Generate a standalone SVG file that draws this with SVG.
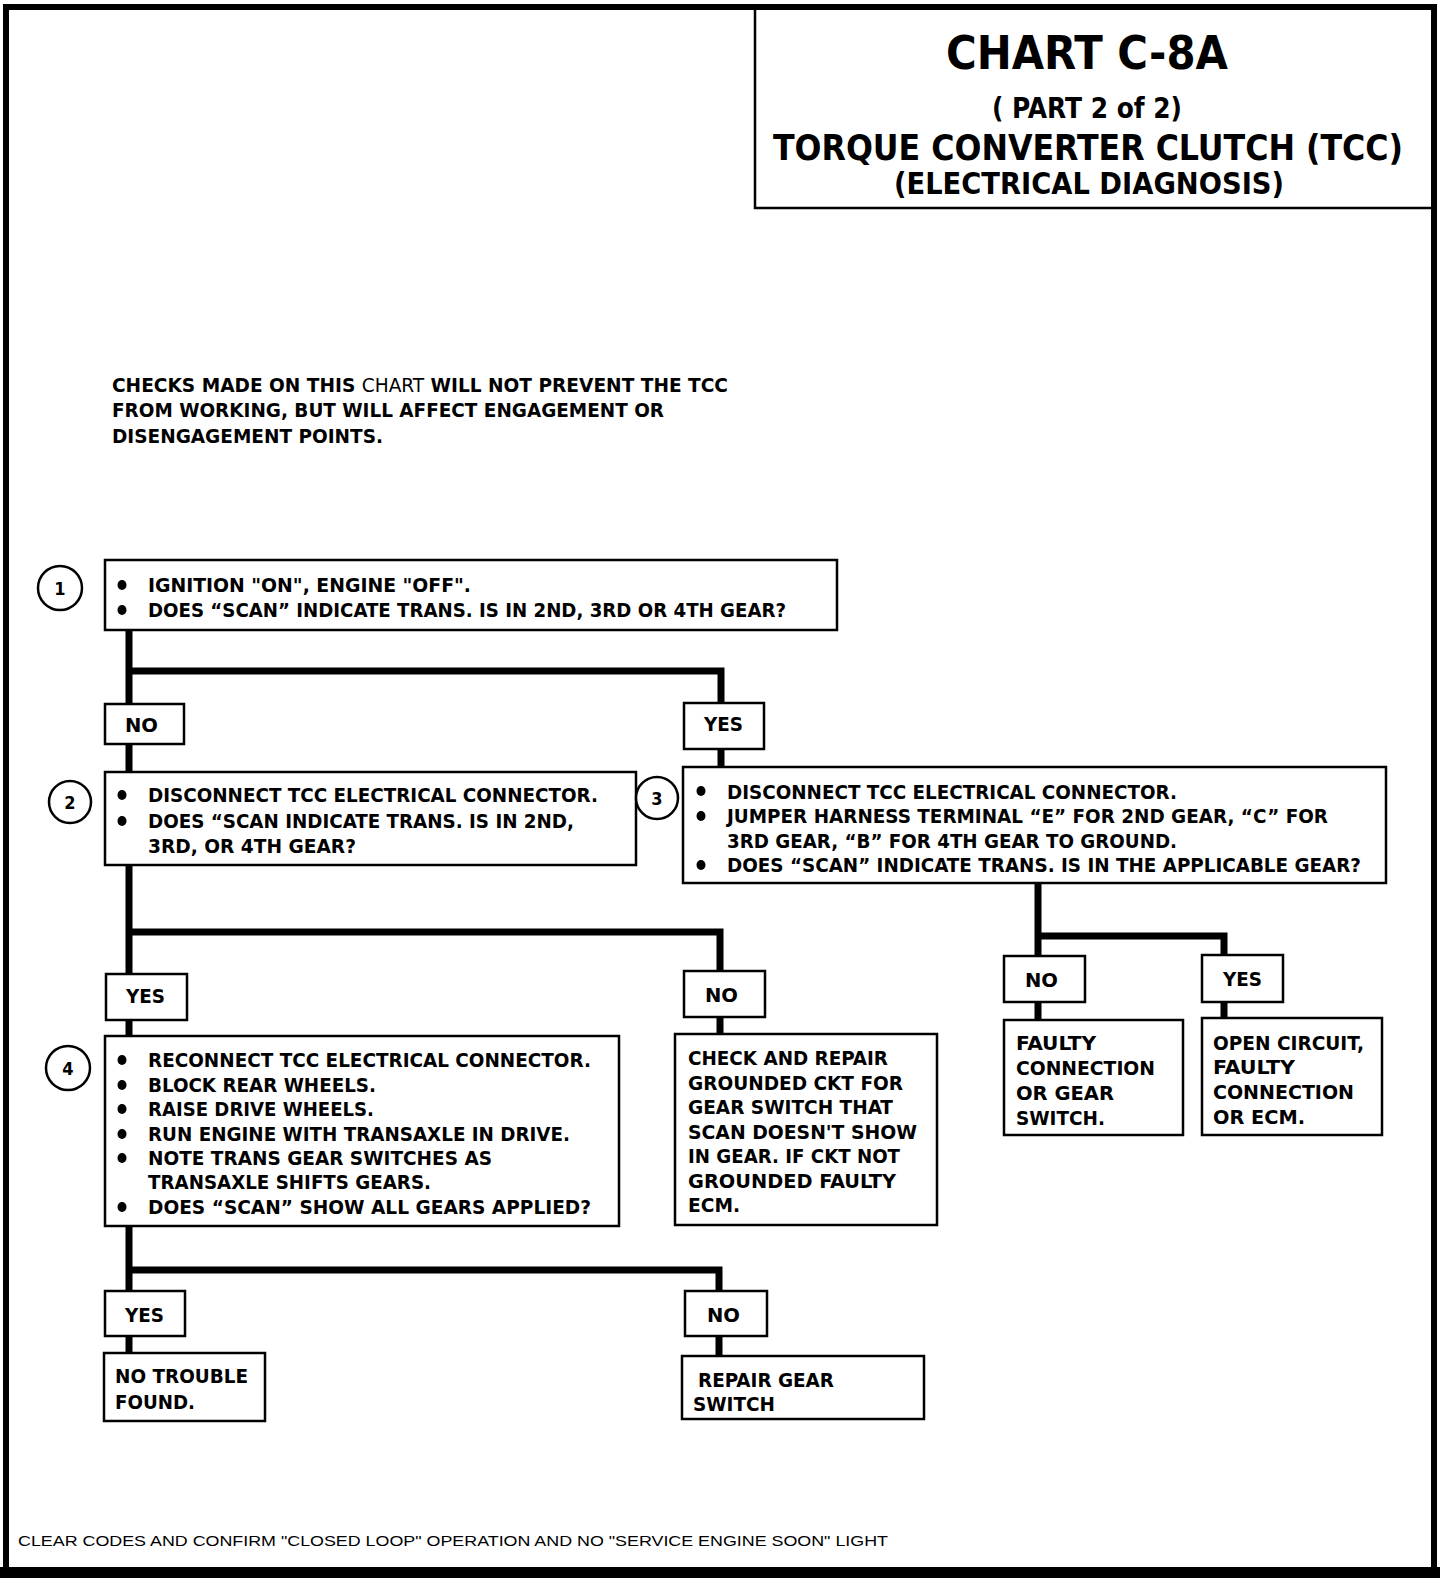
<svg xmlns="http://www.w3.org/2000/svg" width="1456" height="1578" viewBox="0 0 1456 1578">
<style>
.bx{fill:#fff;stroke:#000;stroke-width:2.5}
.t{font-family:"DejaVu Sans Condensed","DejaVu Sans",sans-serif;font-weight:bold;font-size:20px;fill:#000}
.ti{font-family:"DejaVu Sans Condensed","DejaVu Sans",sans-serif;font-weight:bold;fill:#000;text-anchor:middle}
.n{font-family:"DejaVu Sans Condensed","DejaVu Sans",sans-serif;font-weight:bold;font-size:18px;fill:#000;text-anchor:middle}
.ci{fill:#fff;stroke:#000;stroke-width:2.5}
.c{fill:none;stroke:#000;stroke-width:7;stroke-linejoin:miter}
.b{fill:#000}
.ft{font-family:"Liberation Sans",Arial,sans-serif;font-size:15px;fill:#000}
</style>
<rect x="0" y="0" width="1456" height="1578" fill="#fff"/>
<g id="border">
<path d="M6 1578 V7 H1434 V1578" fill="none" stroke="#000" stroke-width="6"/>
<rect x="0" y="1567" width="1440" height="11" fill="#000"/>
</g>
<g id="title">
<path d="M755 8 V208 H1434" fill="none" stroke="#000" stroke-width="2.5"/>
<text class="ti" x="1087" y="69" font-size="46" textLength="282" lengthAdjust="spacingAndGlyphs">CHART C-8A</text>
<text class="ti" x="1087" y="118" font-size="28" textLength="190" lengthAdjust="spacingAndGlyphs">( PART 2 of 2)</text>
<text class="ti" x="1088" y="160" font-size="36" textLength="630" lengthAdjust="spacingAndGlyphs">TORQUE CONVERTER CLUTCH (TCC)</text>
<text class="ti" x="1089" y="194" font-size="30" textLength="390" lengthAdjust="spacingAndGlyphs">(ELECTRICAL DIAGNOSIS)</text>
</g>
<g id="intro">
<text class="t" x="112" y="392" textLength="616" lengthAdjust="spacingAndGlyphs">CHECKS MADE ON THIS <tspan font-weight="normal">CHART</tspan>  WILL NOT PREVENT THE TCC</text>
<text class="t" x="112" y="417" textLength="552" lengthAdjust="spacingAndGlyphs">FROM WORKING, BUT WILL AFFECT ENGAGEMENT OR</text>
<text class="t" x="112" y="443" textLength="271" lengthAdjust="spacingAndGlyphs">DISENGAGEMENT POINTS.</text>
</g>
<g id="connectors">
<path class="c" d="M129 630 V704 M129 671 H721 V703"/>
<path class="c" d="M129 744 V772 M721 749 V767"/>
<path class="c" d="M129 865 V974 M129 932 H720 V971"/>
<path class="c" d="M129 1020 V1036 M720 1017 V1034"/>
<path class="c" d="M1038 883 V956 M1038 936 H1224 V955"/>
<path class="c" d="M1038 1002 V1020 M1224 1002 V1018"/>
<path class="c" d="M129 1226 V1291 M129 1270 H719 V1291"/>
<path class="c" d="M129 1336 V1353 M719 1336 V1356"/>
</g>
<g id="step1">
<circle class="ci" cx="60" cy="588" r="22"/>
<text class="n" x="60" y="595">1</text>
<rect class="bx" x="105" y="560" width="732" height="70"/>
<ellipse class="b" cx="122" cy="585" rx="4.5" ry="5"/>
<ellipse class="b" cx="122" cy="610" rx="4.5" ry="5"/>
<text class="t" x="148" y="592" textLength="323" lengthAdjust="spacingAndGlyphs">IGNITION "ON", ENGINE "OFF".</text>
<text class="t" x="148" y="617" textLength="638" lengthAdjust="spacingAndGlyphs">DOES “SCAN” INDICATE TRANS. IS IN 2ND, 3RD OR 4TH GEAR?</text>
</g>
<g id="no1">
<rect class="bx" x="105" y="704" width="79" height="40"/>
<text class="t" x="125" y="732" textLength="33" lengthAdjust="spacingAndGlyphs">NO</text>
</g>
<g id="yes1">
<rect class="bx" x="684" y="703" width="80" height="46"/>
<text class="t" x="704" y="731" textLength="39" lengthAdjust="spacingAndGlyphs">YES</text>
</g>
<g id="step2">
<circle class="ci" cx="70" cy="802" r="21"/>
<text class="n" x="70" y="809">2</text>
<rect class="bx" x="105" y="772" width="531" height="93"/>
<ellipse class="b" cx="122" cy="795" rx="4.5" ry="5"/>
<ellipse class="b" cx="122" cy="821" rx="4.5" ry="5"/>
<text class="t" x="148" y="802" textLength="450" lengthAdjust="spacingAndGlyphs">DISCONNECT TCC ELECTRICAL CONNECTOR.</text>
<text class="t" x="148" y="828" textLength="426" lengthAdjust="spacingAndGlyphs">DOES “SCAN INDICATE TRANS. IS IN 2ND,</text>
<text class="t" x="148" y="853" textLength="208" lengthAdjust="spacingAndGlyphs">3RD, OR  4TH GEAR?</text>
</g>
<g id="step3">
<circle class="ci" cx="657" cy="798" r="21"/>
<text class="n" x="657" y="805">3</text>
<rect class="bx" x="683" y="767" width="703" height="116"/>
<ellipse class="b" cx="701" cy="791" rx="4.5" ry="5"/>
<ellipse class="b" cx="701" cy="816" rx="4.5" ry="5"/>
<ellipse class="b" cx="701" cy="865" rx="4.5" ry="5"/>
<text class="t" x="727" y="799" textLength="450" lengthAdjust="spacingAndGlyphs">DISCONNECT TCC ELECTRICAL CONNECTOR.</text>
<text class="t" x="727" y="823" textLength="601" lengthAdjust="spacingAndGlyphs">JUMPER HARNESS TERMINAL “E” FOR 2ND GEAR, “C” FOR</text>
<text class="t" x="727" y="848" textLength="450" lengthAdjust="spacingAndGlyphs">3RD GEAR, “B” FOR 4TH GEAR TO GROUND.</text>
<text class="t" x="727" y="872" textLength="634" lengthAdjust="spacingAndGlyphs">DOES “SCAN” INDICATE TRANS. IS IN THE APPLICABLE GEAR?</text>
</g>
<g id="yes2">
<rect class="bx" x="106" y="974" width="81" height="46"/>
<text class="t" x="126" y="1003" textLength="39" lengthAdjust="spacingAndGlyphs">YES</text>
</g>
<g id="no2">
<rect class="bx" x="684" y="971" width="81" height="46"/>
<text class="t" x="705" y="1002" textLength="33" lengthAdjust="spacingAndGlyphs">NO</text>
</g>
<g id="no3">
<rect class="bx" x="1004" y="956" width="81" height="46"/>
<text class="t" x="1025" y="987" textLength="33" lengthAdjust="spacingAndGlyphs">NO</text>
</g>
<g id="yes3">
<rect class="bx" x="1202" y="955" width="81" height="47"/>
<text class="t" x="1223" y="986" textLength="39" lengthAdjust="spacingAndGlyphs">YES</text>
</g>
<g id="step4">
<circle class="ci" cx="68" cy="1068" r="22"/>
<text class="n" x="68" y="1075">4</text>
<rect class="bx" x="105" y="1036" width="514" height="190"/>
<ellipse class="b" cx="122" cy="1060" rx="4.5" ry="5"/>
<ellipse class="b" cx="122" cy="1085" rx="4.5" ry="5"/>
<ellipse class="b" cx="122" cy="1109" rx="4.5" ry="5"/>
<ellipse class="b" cx="122" cy="1134" rx="4.5" ry="5"/>
<ellipse class="b" cx="122" cy="1158" rx="4.5" ry="5"/>
<ellipse class="b" cx="122" cy="1207" rx="4.5" ry="5"/>
<text class="t" x="148" y="1067" textLength="443" lengthAdjust="spacingAndGlyphs">RECONNECT TCC ELECTRICAL CONNECTOR.</text>
<text class="t" x="148" y="1092" textLength="228" lengthAdjust="spacingAndGlyphs">BLOCK REAR WHEELS.</text>
<text class="t" x="148" y="1116" textLength="226" lengthAdjust="spacingAndGlyphs">RAISE DRIVE WHEELS.</text>
<text class="t" x="148" y="1141" textLength="422" lengthAdjust="spacingAndGlyphs">RUN ENGINE WITH TRANSAXLE IN DRIVE.</text>
<text class="t" x="148" y="1165" textLength="344" lengthAdjust="spacingAndGlyphs">NOTE TRANS GEAR SWITCHES AS</text>
<text class="t" x="148" y="1189" textLength="283" lengthAdjust="spacingAndGlyphs">TRANSAXLE SHIFTS GEARS.</text>
<text class="t" x="148" y="1214" textLength="443" lengthAdjust="spacingAndGlyphs">DOES “SCAN” SHOW ALL GEARS APPLIED?</text>
</g>
<g id="result-ground">
<rect class="bx" x="675" y="1034" width="262" height="191"/>
<text class="t" x="688" y="1065" textLength="200" lengthAdjust="spacingAndGlyphs">CHECK AND REPAIR</text>
<text class="t" x="688" y="1090" textLength="215" lengthAdjust="spacingAndGlyphs">GROUNDED CKT FOR</text>
<text class="t" x="688" y="1114" textLength="205" lengthAdjust="spacingAndGlyphs">GEAR SWITCH THAT</text>
<text class="t" x="688" y="1139" textLength="229" lengthAdjust="spacingAndGlyphs">SCAN DOESN'T SHOW</text>
<text class="t" x="688" y="1163" textLength="212" lengthAdjust="spacingAndGlyphs">IN GEAR.  IF CKT NOT</text>
<text class="t" x="688" y="1188" textLength="208" lengthAdjust="spacingAndGlyphs">GROUNDED FAULTY</text>
<text class="t" x="688" y="1212" textLength="52" lengthAdjust="spacingAndGlyphs">ECM.</text>
</g>
<g id="result-faulty">
<rect class="bx" x="1004" y="1020" width="179" height="115"/>
<text class="t" x="1016" y="1050" textLength="80" lengthAdjust="spacingAndGlyphs">FAULTY</text>
<text class="t" x="1016" y="1075" textLength="139" lengthAdjust="spacingAndGlyphs">CONNECTION</text>
<text class="t" x="1016" y="1100" textLength="98" lengthAdjust="spacingAndGlyphs">OR  GEAR</text>
<text class="t" x="1016" y="1125" textLength="89" lengthAdjust="spacingAndGlyphs">SWITCH.</text>
</g>
<g id="result-open">
<rect class="bx" x="1202" y="1018" width="180" height="117"/>
<text class="t" x="1213" y="1050" textLength="151" lengthAdjust="spacingAndGlyphs">OPEN CIRCUIT,</text>
<text class="t" x="1213" y="1074" textLength="82" lengthAdjust="spacingAndGlyphs">FAULTY</text>
<text class="t" x="1213" y="1099" textLength="141" lengthAdjust="spacingAndGlyphs">CONNECTION</text>
<text class="t" x="1213" y="1124" textLength="92" lengthAdjust="spacingAndGlyphs">OR ECM.</text>
</g>
<g id="yes4">
<rect class="bx" x="105" y="1291" width="80" height="45"/>
<text class="t" x="125" y="1322" textLength="39" lengthAdjust="spacingAndGlyphs">YES</text>
</g>
<g id="no4">
<rect class="bx" x="685" y="1291" width="82" height="45"/>
<text class="t" x="707" y="1322" textLength="33" lengthAdjust="spacingAndGlyphs">NO</text>
</g>
<g id="result-ok">
<rect class="bx" x="104" y="1353" width="161" height="68"/>
<text class="t" x="115" y="1383" textLength="133" lengthAdjust="spacingAndGlyphs">NO TROUBLE</text>
<text class="t" x="115" y="1409" textLength="80" lengthAdjust="spacingAndGlyphs">FOUND.</text>
</g>
<g id="result-repair">
<rect class="bx" x="682" y="1356" width="242" height="63"/>
<text class="t" x="698" y="1387" textLength="136" lengthAdjust="spacingAndGlyphs">REPAIR GEAR</text>
<text class="t" x="693" y="1411" textLength="82" lengthAdjust="spacingAndGlyphs">SWITCH</text>
</g>
<g id="footer">
<text class="ft" x="18" y="1546" textLength="870" lengthAdjust="spacingAndGlyphs">CLEAR CODES AND CONFIRM "CLOSED LOOP" OPERATION AND NO "SERVICE ENGINE SOON" LIGHT</text>
</g>
</svg>
